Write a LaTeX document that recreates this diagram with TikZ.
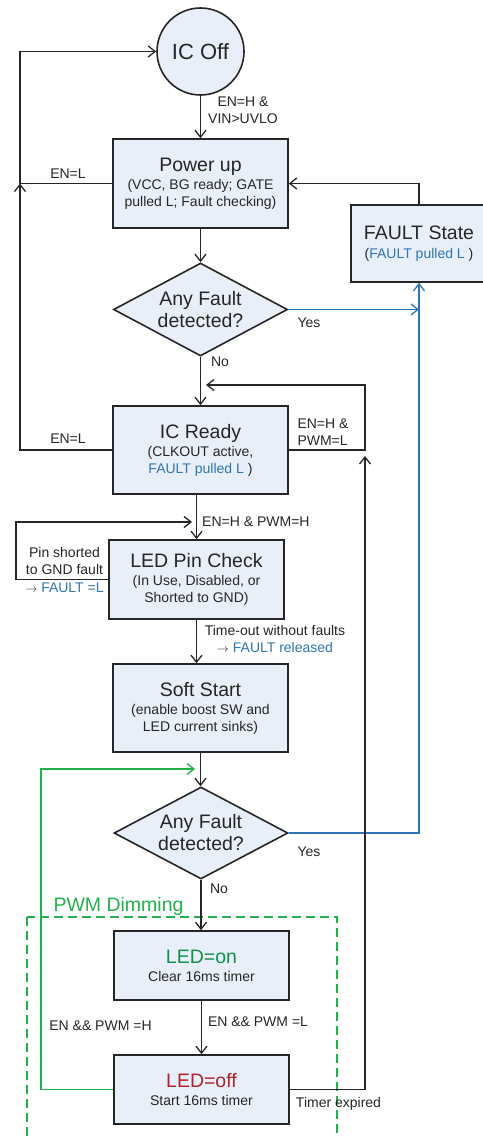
\documentclass[tikz,border=0pt]{standalone}
\usepackage{fontspec}
\setmainfont{Liberation Sans}
\usetikzlibrary{shapes.geometric,arrows.meta}
\definecolor{boxfill}{HTML}{E9EFF8}
\definecolor{ink}{HTML}{262626}
\definecolor{fblue}{HTML}{2E75B6}
\definecolor{lgreen}{HTML}{22B14C}
\definecolor{dgreen}{HTML}{12914A}
\definecolor{dred}{HTML}{B0232B}
\newcommand\bigt{\fontsize{19.5}{22}\selectfont}
\newcommand\smallt{\fontsize{14}{17}\selectfont}
\newcommand\rarr{{\fontsize{12}{17}\selectfont$\rightarrow$}}
\begin{document}
\begin{tikzpicture}[x=1pt,y=-1pt,
  stbox/.style={draw=ink, fill=boxfill, line width=1.6pt, minimum width=175pt, inner sep=0pt, align=center, text=ink, font=\smallt},
  dec/.style={diamond, draw=ink, fill=boxfill, line width=1.6pt, minimum width=174pt, minimum height=93pt, aspect=1.87, inner sep=0pt, align=center, text=ink, font=\bigt},
  arr/.style={draw=ink, line width=1.3pt, -{Straight Barb[length=7pt,width=11pt,line width=1.3pt]}},
  lbl/.style={text=ink, font=\smallt, inner sep=0pt, align=center},
  dashbox/.style={draw=lgreen, line width=1.3pt, dash pattern=on 9pt off 5pt},
]
\useasboundingbox (0,0) rectangle (482,1137);

% PWM dimming region
\draw[dashbox] (27,917) rectangle (337,1150);
\node[lbl, text=lgreen, font=\bigt] (pwm) at (118.5,906) {PWM Dimming};

% states
\node[circle, draw=ink, fill=boxfill, line width=1.6pt, minimum size=87pt, inner sep=0pt, text=ink, font=\fontsize{22}{24}\selectfont] (off) at (200.5,51.5) {IC Off};
\node[stbox, minimum height=89pt] (pu) at (200.5,183.5) {{\bigt Power up}\\[1pt](VCC, BG ready; GATE\\pulled L; Fault checking)};
\node[stbox, minimum width=136pt, minimum height=77pt] (fs) at (419,243.5) {{\bigt FAULT State}\\[2pt](\textcolor{fblue}{FAULT pulled L} )};
\node[dec] (d1) at (200.5,309.5) {Any Fault\\detected?};
\node[stbox, minimum height=88pt] (rdy) at (200.5,450) {{\bigt IC Ready}\\[1pt](CLKOUT active,\\\textcolor{fblue}{FAULT pulled L} )};
\node[stbox, minimum height=79pt] (lpc) at (196.5,579.5) {{\bigt LED Pin Check}\\[1pt](In Use, Disabled, or\\Shorted to GND)};
\node[stbox, minimum height=88pt] (ss) at (200.5,708) {{\bigt Soft Start}\\[1pt](enable boost SW and\\LED current sinks)};
\node[dec, minimum height=92pt] (d2) at (201,833) {Any Fault\\detected?};
\node[stbox, minimum height=69pt] (on) at (201.5,965.5) {{\bigt\textcolor{dgreen}{LED=on}}\\[1pt]Clear 16ms timer};
\node[stbox, minimum height=69pt] (loff) at (201.5,1089.5) {{\bigt\textcolor{dred}{LED=off}}\\[1pt]Start 16ms timer};

% labels
\node[lbl] (l1) at (243,110) {EN=H \&\\VIN>UVLO};
\node[lbl] (l2) at (68,174) {EN=L};
\node[lbl] (l3) at (309,323) {Yes};
\node[lbl] (l4) at (220,362) {No};
\node[lbl] (l5) at (68,439) {EN=L};
\node[lbl, align=left] (l6) at (323,432) {EN=H \&\\PWM=L};
\node[lbl, anchor=west] (l7) at (202,522) {EN=H \& PWM=H};
\node[lbl] (l8) at (64.5,561) {Pin shorted\\to GND fault};
\node[lbl] (l9) at (64.5,588) {\rarr\ \textcolor{fblue}{FAULT =L}};
\node[lbl] (l10) at (275,639) {Time-out without faults\\\rarr\ \textcolor{fblue}{FAULT released}};
\node[lbl] (l11) at (309,852) {Yes};
\node[lbl] (l12) at (219,889) {No};
\node[lbl] (l13) at (258,1022) {EN \&\& PWM =L};
\node[lbl] (l14) at (100.5,1026) {EN \&\& PWM =H};
\node[lbl] (l15) at (338.5,1104) {Timer expired};

% coordinates
\coordinate (L0) at (20,51.5);
\coordinate (L1) at (20,183.5);
\coordinate (L2) at (20,450);
\coordinate (F1) at (419,183.5);
\coordinate (B1) at (419,309.5);
\coordinate (B2) at (419,833);
\coordinate (R1) at (365,450);
\coordinate (R2) at (365,385);
\coordinate (R3) at (206,385);
\coordinate (T1) at (365,1089.5);
\coordinate (T2) at (365,456);
\coordinate (P1) at (16,579.5);
\coordinate (P2) at (16,522);
\coordinate (P3) at (192,522);
\coordinate (G1) at (41,1089.5);
\coordinate (G2) at (41,769);
\coordinate (G3) at (195,769);

% connectors
\draw[arr] (off.south) -- (pu.north);
\draw[arr] (pu.west) -- (L1) -- (L0) -- (off.west);
\draw[arr] (rdy.west) -- (L2) -- (L1);
\draw[arr] (pu.south) -- (d1.north);
\draw[arr] (d1.south) -- (rdy.north);
\draw[arr] (fs.north) -- (F1) -- (pu.east);
\draw[arr, draw=fblue] (d1.east) -- (B1);
\draw[arr, draw=fblue] (d2.east) -- (B2) -- (fs.south);
\draw[arr] (rdy.east) -- (R1) -- (R2) -- (R3);
\draw[arr] (rdy.south -| lpc.north) -- (lpc.north);
\draw[arr] (lpc.west) -- (P1) -- (P2) -- (P3);
\draw[arr] (lpc.south) -- (lpc.south |- ss.north);
\draw[arr] (ss.south) -- (ss.south |- d2.north);
\draw[arr] (d2.south) -- (d2.south |- on.north);
\draw[arr] (on.south) -- (loff.north);
\draw[arr] (loff.east) -- (T1) -- (T2);
\draw[arr, draw=lgreen] (loff.west) -- (G1) -- (G2) -- (G3);
\end{tikzpicture}
\end{document}
